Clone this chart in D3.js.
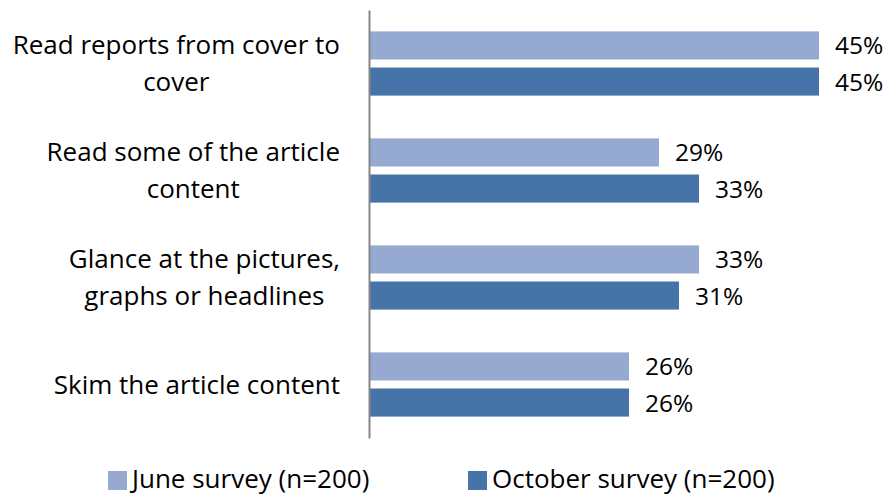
<!DOCTYPE html>
<html>
<head>
<meta charset="utf-8">
<script src="https://cdn.jsdelivr.net/npm/d3@7/dist/d3.min.js"></script>
<style>
  html, body { margin: 0; padding: 0; background: #ffffff; }
  svg { display: block; font-family: "Open Sans", Lato, sans-serif; }
</style>
</head>
<body>
<svg id="chart" width="893" height="495"></svg>
<script>
// Survey answers: how people read the reports ("\n" marks a label line break)
const categories = [
  "Read reports from cover to\ncover",
  "Read some of the article\ncontent",
  "Glance at the pictures,\ngraphs or headlines",
  "Skim the article content"
];
const seriesNames = ["June survey (n=200)", "October survey (n=200)"];
const juneValues = [45, 29, 33, 26];
const octoberValues = [45, 33, 31, 26];
const seriesColors = ["#95a9d1", "#4673a8"];

const rows = categories.map((c, i) => ({
  category: c,
  values: [
    { series: seriesNames[0], value: juneValues[i], idx: 0 },
    { series: seriesNames[1], value: octoberValues[i], idx: 1 }
  ]
}));

const svg = d3.select("#chart");
const labelSize = 26;
const valueSize = 24.5;
const axisX = 369;
const plotTop = 10, plotBottom = 438;

const x = d3.scaleLinear().domain([0, 50]).range([axisX, axisX + 500]);
const y = d3.scaleBand().domain(categories).range([plotTop, plotBottom]).padding(0);
const ySeries = d3.scaleBand()
  .domain([0, 1])
  .range([y.step() * 0.2, y.step() * 0.8])
  .paddingInner(8 / 36);

// Bars
const groups = svg.append("g").selectAll("g")
  .data(rows)
  .join("g")
  .attr("transform", d => `translate(0,${y(d.category)})`);

groups.selectAll("rect")
  .data(d => d.values)
  .join("rect")
  .attr("x", x(0))
  .attr("y", d => ySeries(d.idx))
  .attr("width", d => x(d.value) - x(0))
  .attr("height", ySeries.bandwidth())
  .attr("fill", d => seriesColors[d.idx]);

// Value labels
groups.selectAll("text.value")
  .data(d => d.values)
  .join("text")
  .attr("class", "value")
  .attr("x", d => x(d.value) + 16)
  .attr("y", d => ySeries(d.idx) + ySeries.bandwidth() / 2 + 9)
  .attr("font-size", valueSize)
  .attr("fill", "#000")
  .text(d => d.value + "%");

// Category axis line
const axis = svg.append("g")
  .attr("transform", `translate(${axisX},0)`)
  .call(d3.axisLeft(y).tickSize(0).tickFormat(""));
axis.select(".domain").attr("stroke", "#868686").attr("stroke-width", 2);

// Centred category labels; the block's right edge sits at 340
const labelRight = 340;
const lineGap = 37;
const measure = svg.append("text").attr("font-size", labelSize).attr("visibility", "hidden");
function textWidth(s) { measure.text(s); return measure.node().getComputedTextLength(); }

categories.forEach(c => {
  const lines = c.split("\n");
  const maxW = d3.max(lines, textWidth);
  const cx = labelRight - maxW / 2;
  const cy = y(c) + y.bandwidth() / 2;
  const firstBase = cy + 9 - (lines.length - 1) * lineGap / 2;
  const t = svg.append("text")
    .attr("font-size", labelSize)
    .attr("text-anchor", "middle")
    .attr("fill", "#000");
  lines.forEach((l, i) => {
    t.append("tspan").attr("x", cx).attr("y", firstBase + i * lineGap).text(l);
  });
});
measure.remove();

// Legend
const legendX = [108, 468];
const legend = svg.append("g").selectAll("g")
  .data(seriesNames)
  .join("g")
  .attr("transform", (d, i) => `translate(${legendX[i]},471)`);
legend.append("rect")
  .attr("width", 19).attr("height", 19)
  .attr("fill", (d, i) => seriesColors[i]);
legend.append("text")
  .attr("x", 24).attr("y", 17)
  .attr("font-size", labelSize)
  .attr("fill", "#000")
  .text(d => d);
</script>
</body>
</html>
